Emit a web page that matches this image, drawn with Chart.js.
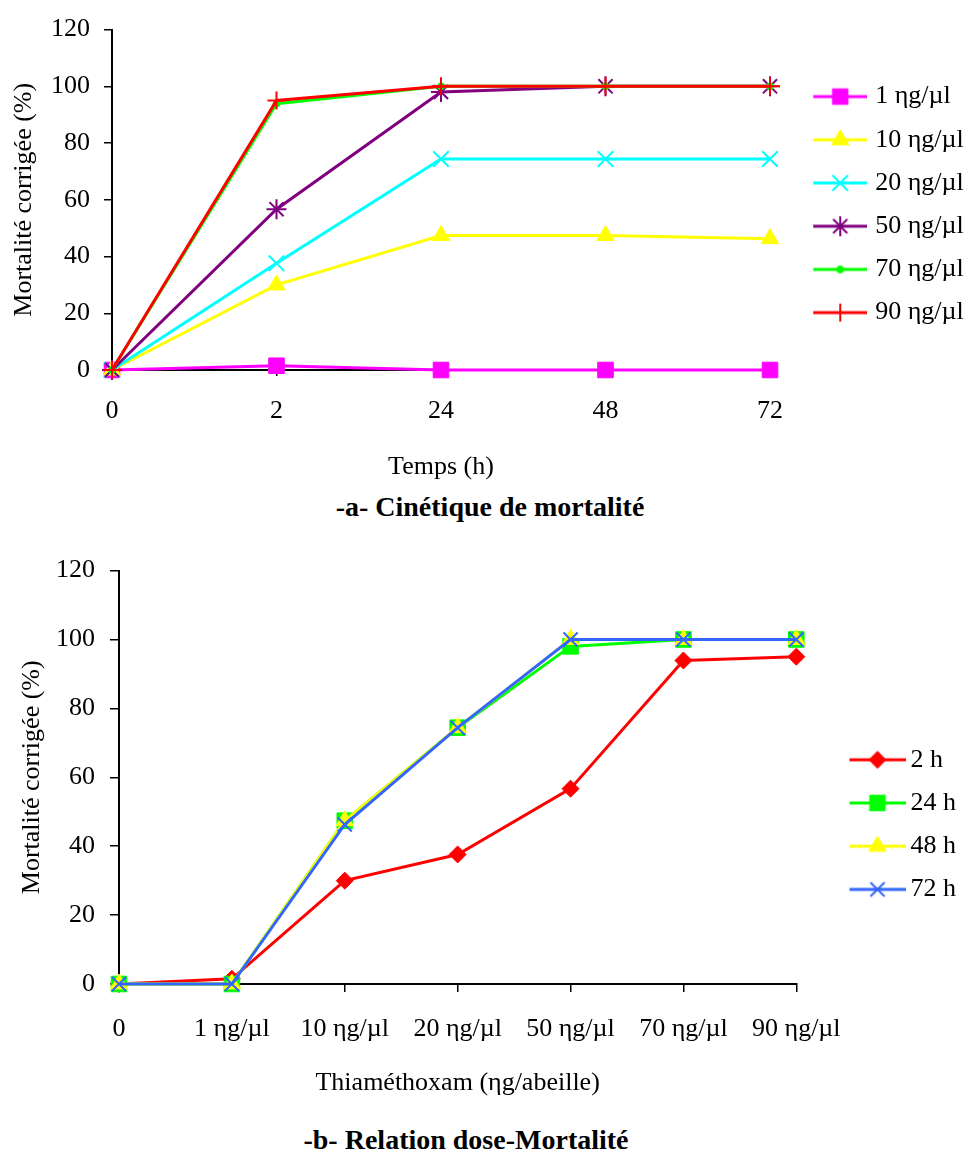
<!DOCTYPE html>
<html lang="fr">
<head>
<meta charset="utf-8">
<title>Mortalité corrigée - Thiaméthoxam</title>
<script src="https://cdn.jsdelivr.net/npm/chart.js@4.4.1/dist/chart.umd.min.js"></script>
<style>
    body { margin: 0; background: #fff; }
    #page { position: relative; width: 968px; height: 1152px; font-family: 'Liberation Serif', 'Times New Roman', serif; }
    #page canvas { position: absolute; left: 0; }
    .caption { position: absolute; font-weight: bold; font-size: 28px; white-space: nowrap; transform: translate(-50%, -50%); color: #000; }
</style>
</head>
<body>
<div id="page">
    <canvas id="chartA" width="968" height="490" style="top:0"></canvas>
    <div class="caption" style="left:490px;top:507px">-a- Cinétique de mortalité</div>
    <canvas id="chartB" width="968" height="560" style="top:540px"></canvas>
    <div class="caption" style="left:466px;top:1140px">-b- Relation dose-Mortalité</div>
</div>
<script>
"use strict";

// ===== data =====
const hours = ['0', '2', '24', '48', '72'];
const doses = ['1 ηg/µl', '10 ηg/µl', '20 ηg/µl', '50 ηg/µl', '70 ηg/µl', '90 ηg/µl'];
const yTicks = [0, 20, 40, 60, 80, 100, 120];

// chart a: mortality per dose over time
const dose1 = [0, 1.5, 0, 0, 0];
const dose10 = [0, 30, 47.4, 47.4, 46.3];
const dose20 = [0, 37.6, 74.4, 74.4, 74.4];
const dose50 = [0, 56.7, 98, 100, 100];
const dose70 = [0, 93.9, 100, 100, 100];
const dose90 = [0, 95, 100, 100, 100];

// chart b: mortality per time over dose
const doseTicks = ['0', ...doses];
const time2h = [0, 1.5, 30, 37.6, 56.7, 93.9, 95];
const time24h = [0, 0, 47.4, 74.4, 98, 100, 100];
const time48h = [0, 0, 47.4, 74.4, 100, 100, 100];
const time72h = [0, 0, 46.3, 74.4, 100, 100, 100];

Chart.defaults.font.family = "'Liberation Serif', 'Times New Roman', serif";
Chart.defaults.font.size = 26;
Chart.defaults.color = '#000';

const series = (label, data, color, style, radius, crossy) => ({
    label, data,
    borderColor: color,
    backgroundColor: color,
    borderWidth: 3,
    tension: 0,
    clip: false,
    pointStyle: style,
    pointRadius: radius,
    pointHoverRadius: radius,
    pointBackgroundColor: color,
    pointBorderColor: color,
    pointBorderWidth: crossy ? 2 : 1
});

// legend sample: a short line with the marker in the middle
const makeIcon = (ds, g) => {
    const c = document.createElement('canvas');
    c.width = g.w;
    c.height = 28;
    const ctx = c.getContext('2d');
    ctx.strokeStyle = ds.borderColor;
    ctx.lineWidth = ds.borderWidth;
    ctx.beginPath();
    ctx.moveTo(g.from, 14);
    ctx.lineTo(g.to, 14);
    ctx.stroke();
    if (Chart.helpers && Chart.helpers.drawPoint) {
        ctx.fillStyle = ds.pointBackgroundColor;
        ctx.strokeStyle = ds.pointBorderColor;
        ctx.lineWidth = ds.pointBorderWidth;
        Chart.helpers.drawPoint(ctx, {
            pointStyle: ds.pointStyle, radius: ds.pointRadius,
            borderWidth: ds.pointBorderWidth, rotation: 0
        }, g.mark, 14);
    }
    return c;
};

const legendLabels = g => chart => chart.data.datasets.map((ds, i) => ({
    text: ds.label,
    pointStyle: makeIcon(ds, g),
    datasetIndex: i,
    hidden: false,
    lineWidth: 0,
    fontColor: '#000',
    fillStyle: ds.borderColor,
    strokeStyle: ds.borderColor
}));

const axisBits = tickLen => ({
    grid: { drawOnChartArea: false, drawTicks: true, tickLength: tickLen, color: '#000', lineWidth: 1.5 },
    border: { color: '#000', width: 2 }
});

const buildChart = (id, cfg) => new Chart(document.getElementById(id), {
    type: 'line',
    data: { labels: cfg.labels, datasets: cfg.datasets.map((d, i, all) => ({ ...d, order: all.length - i })) },
    options: {
        responsive: false,
        animation: false,
        events: [],
        layout: { padding: { top: 25, left: 0, right: cfg.padRight, bottom: 0 } },
        plugins: {
            tooltip: { enabled: false },
            legend: {
                position: 'right',
                align: 'center',
                fullSize: false, // keep the legend box beside the plot area only
                maxWidth: cfg.legendWidth,
                title: { display: true, text: ' ', font: { size: 8 }, padding: { top: cfg.legendShift, bottom: 0 } },
                labels: {
                    usePointStyle: true,
                    pointStyleWidth: cfg.icon.box,
                    padding: 17.2,
                    color: '#000',
                    generateLabels: legendLabels(cfg.icon)
                }
            }
        },
        scales: {
            x: {
                type: 'category',
                offset: false,
                ...axisBits(cfg.xTick),
                ticks: { autoSkip: false, maxRotation: 0, padding: cfg.xPad },
                title: { display: true, text: cfg.xTitle, padding: { top: 0, bottom: cfg.xTitlePad } },
                afterFit: s => { s.height = cfg.xHeight; }
            },
            y: {
                min: 0,
                max: 120,
                ...axisBits(cfg.yTick),
                ticks: { padding: cfg.yPad },
                afterBuildTicks: s => { s.ticks = yTicks.map(v => ({ value: v })); },
                title: { display: true, text: 'Mortalité corrigée (%)', padding: { top: cfg.yTitlePad, bottom: 0 } },
                afterFit: s => { s.width = cfg.yWidth; }
            }
        }
    }
});

// ===== -a- Cinétique de mortalité =====
buildChart('chartA', {
    labels: hours,
    datasets: [
        series(doses[0], dose1, '#FF00FF', 'rect', 11),
        series(doses[1], dose10, '#FFFF00', 'triangle', 10),
        series(doses[2], dose20, '#00FFFF', 'crossRot', 11, true),
        series(doses[3], dose50, '#800080', 'star', 10, true),
        series(doses[4], dose70, '#00FF00', 'circle', 3.5),
        series(doses[5], dose90, '#FF0000', 'cross', 9, true)
    ],
    xTitle: 'Temps (h)',
    xTick: 6, xPad: 20, xTitlePad: 7, xHeight: 120,
    yTick: 8, yPad: 14, yTitlePad: 9, yWidth: 112,
    padRight: 0, legendWidth: 198, legendShift: 0,
    icon: { box: 75, w: 85, from: 31, to: 85, mark: 58 }
});

// ===== -b- Relation dose-Mortalité =====
buildChart('chartB', {
    labels: doseTicks,
    datasets: [
        series('2 h', time2h, '#FF0000', 'rectRot', 8.5),
        series('24 h', time24h, '#00FF00', 'rect', 11),
        series('48 h', time48h, '#FFFF00', 'triangle', 10),
        series('72 h', time72h, '#3366FF', 'crossRot', 10, true)
    ],
    xTitle: 'Thiaméthoxam (ηg/abeille)',
    xTick: 8, xPad: 22, xTitlePad: 1, xHeight: 116,
    yTick: 9, yPad: 15, yTitlePad: 17, yWidth: 119,
    padRight: 2, legendWidth: 170, legendShift: 85,
    icon: { box: 84, w: 100, from: 44, to: 100, mark: 72 }
});
</script>
</body>
</html>
